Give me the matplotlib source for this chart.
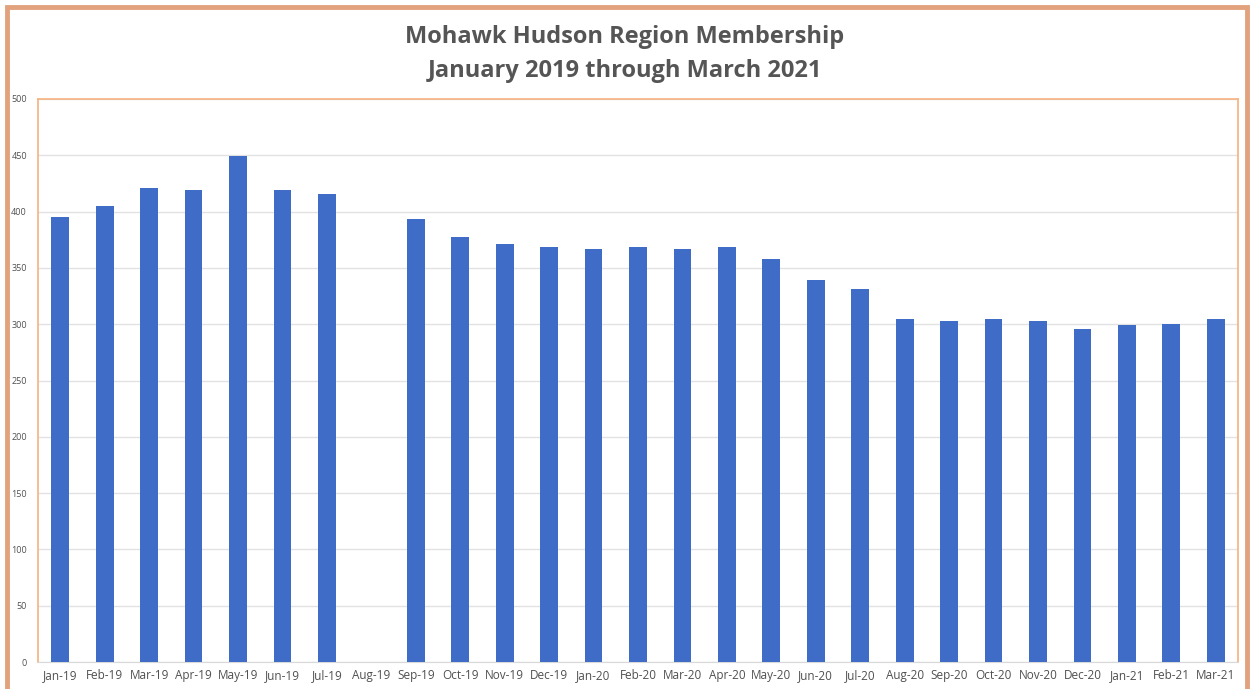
import matplotlib.pyplot as plt
from matplotlib.patches import Rectangle
import numpy as np

# Monthly membership counts (Aug-19 has no value)
months = ['Jan-19', 'Feb-19', 'Mar-19', 'Apr-19', 'May-19', 'Jun-19', 'Jul-19', 'Aug-19',
          'Sep-19', 'Oct-19', 'Nov-19', 'Dec-19', 'Jan-20', 'Feb-20', 'Mar-20', 'Apr-20',
          'May-20', 'Jun-20', 'Jul-20', 'Aug-20', 'Sep-20', 'Oct-20', 'Nov-20', 'Dec-20',
          'Jan-21', 'Feb-21', 'Mar-21']
members = [395, 405, 421, 419, 449, 419, 416, np.nan,
           393, 377, 371, 369, 367, 369, 367, 369,
           358, 339, 331, 305, 303, 305, 303, 296,
           299, 300, 305]

plt.rcParams['font.family'] = ['Open Sans', 'DejaVu Sans']

fig = plt.figure(figsize=(12.5, 6.89), dpi=100)
ax = fig.add_axes([38 / 1250, 27 / 689, 1200 / 1250, 563 / 689])

x = np.arange(len(months))
ax.bar(x, members, width=0.4, color='#3F6CC6', zorder=3)

ax.set_xlim(-0.5, len(months) - 0.5)
ax.set_ylim(0, 500)
ax.set_yticks(range(0, 501, 50))
ax.set_xticks(x)
ax.set_xticklabels(months, fontsize=8.5, color='#505050')
ax.tick_params(axis='y', labelsize=6.5, labelcolor='#505050', length=0, pad=8)
ax.tick_params(axis='x', length=0, pad=5)
ax.grid(axis='y', color='#E2E2E2', linewidth=1, zorder=0)

for side in ['top', 'left', 'right']:
    ax.spines[side].set_color('#F6B27E')
    ax.spines[side].set_linewidth(1.2)
ax.spines['bottom'].set_color('#D9D9D9')

fig.text(0.5, 1 - 37 / 689, 'Mohawk Hudson Region Membership', ha='center', va='center',
         fontsize=17, fontweight='bold', color='#555555')
fig.text(0.5, 1 - 71 / 689, 'January 2019 through March 2021', ha='center', va='center',
         fontsize=17, fontweight='bold', color='#555555')

# outer border of the screenshot
fig.patches.append(Rectangle((7 / 1250, -0.02), 1240 / 1250, 1 - 7 / 689 + 0.02,
                             transform=fig.transFigure, fill=False,
                             edgecolor='#E2A27D', linewidth=3.5))

fig.savefig('out.png', dpi=100)
